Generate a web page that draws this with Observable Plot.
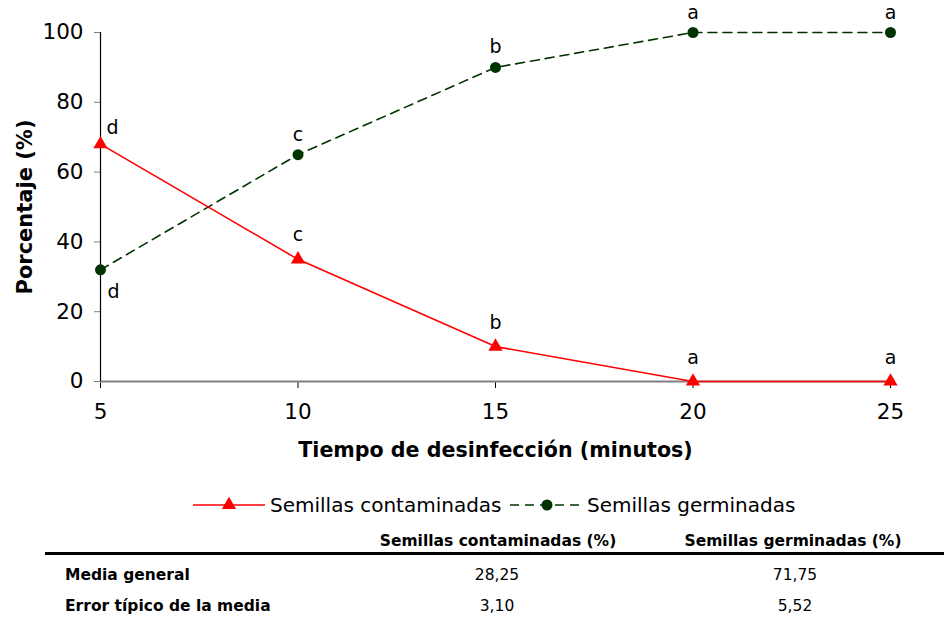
<!DOCTYPE html>
<html>
<head>
<meta charset="utf-8">
<script src="https://cdn.jsdelivr.net/npm/d3@7"></script>
<script src="https://cdn.jsdelivr.net/npm/@observablehq/plot@0.6"></script>
<style>
  body { margin: 0; background: #fff; width: 944px; height: 619px; position: relative; overflow: hidden; font-family: "DejaVu Sans", Verdana, sans-serif; }
  #chart { position: absolute; left: 0; top: 0; }
  #legend { position: absolute; left: 0; top: 488px; width: 944px; height: 34px; }
  .tbl { position: absolute; font-family: "DejaVu Sans", sans-serif; font-weight: bold; font-size: 15.5px; line-height: 18px; color: #000; white-space: nowrap; }
  .v { font-weight: normal; font-size: 15.5px; }
  .c { transform: translateX(-50%); }
  #rule { position: absolute; left: 45px; top: 552px; width: 899px; height: 3px; background: #000; }
</style>
</head>
<body>
<div id="chart"></div>
<div id="legend"></div>
<div class="tbl c" style="left:498px; top:532px;">Semillas contaminadas (%)</div>
<div class="tbl c" style="left:793px; top:532px;">Semillas germinadas (%)</div>
<div id="rule"></div>
<div class="tbl" style="left:65px; top:566px;">Media general</div>
<div class="tbl v c" style="left:497px; top:566px;">28,25</div>
<div class="tbl v c" style="left:795px; top:566px;">71,75</div>
<div class="tbl" style="left:65px; top:597px;">Error típico de la media</div>
<div class="tbl v c" style="left:497px; top:597px;">3,10</div>
<div class="tbl v c" style="left:795px; top:597px;">5,52</div>
<script>
const minutos = [5, 10, 15, 20, 25];
const contaminadas = [68, 35, 10, 0, 0];
const germinadas = [32, 65, 90, 100, 100];
const letrasContaminadas = ["d", "c", "b", "a", "a"];
const letrasGerminadas = ["d", "c", "b", "a", "a"];
const xTicks = [5, 10, 15, 20, 25];
const yTicks = [0, 20, 40, 60, 80, 100];

const RED = "#ff0000";
const GREEN = "#003300";

const cont = minutos.map((m, i) => ({x: m, y: contaminadas[i], l: letrasContaminadas[i], i}));
const germ = minutos.map((m, i) => ({x: m, y: germinadas[i], l: letrasGerminadas[i], i}));

const font = "DejaVu Sans, Verdana, sans-serif";

const plot = Plot.plot({
  width: 944,
  height: 470,
  marginLeft: 100,
  marginRight: 54,
  marginTop: 32,
  marginBottom: 89,
  style: {fontFamily: font, background: "white", color: "#000", overflow: "visible"},
  x: {domain: [5, 25]},
  y: {domain: [0, 100]},
  marks: [
    Plot.axisY({ticks: yTicks, tickSize: 6, tickPadding: 11, fontSize: 21.5, stroke: "#808080", label: null}),
    Plot.axisX({ticks: xTicks, tickSize: 7, tickPadding: 15, fontSize: 21.5, stroke: "#000", label: null}),
    Plot.ruleY([0], {stroke: "#808080", strokeWidth: 2}),
    Plot.ruleX([5], {y1: 0, y2: 100, stroke: "#000", strokeWidth: 1.2}),
    Plot.line(germ, {x: "x", y: "y", stroke: GREEN, strokeWidth: 1.6, strokeDasharray: "9,6"}),
    Plot.line(cont, {x: "x", y: "y", stroke: RED, strokeWidth: 1.6}),
    Plot.dot(germ, {x: "x", y: "y", r: 5.5, fill: GREEN, stroke: null}),
    Plot.dot(cont, {x: "x", y: "y", r: 5.3, symbol: "triangle", fill: RED, stroke: null}),
    Plot.text(cont.filter(d => d.i === 0), {x: "x", y: "y", text: "l", dx: 12, dy: -16, fontSize: 19}),
    Plot.text(cont.filter(d => d.i > 0), {x: "x", y: "y", text: "l", dy: -24, fontSize: 19}),
    Plot.text(germ.filter(d => d.i === 0), {x: "x", y: "y", text: "l", dx: 13, dy: 22, fontSize: 19}),
    Plot.text(germ.filter(d => d.i > 0), {x: "x", y: "y", text: "l", dy: -20, fontSize: 19}),
    Plot.text(["Tiempo de desinfección (minutos)"], {frameAnchor: "bottom", lineAnchor: "middle", textAnchor: "middle", dy: 69, fontSize: 20.6, fontWeight: "bold"}),
    Plot.text(["Porcentaje (%)"], {frameAnchor: "left", lineAnchor: "middle", textAnchor: "middle", dx: -75, rotate: -90, fontSize: 21, fontWeight: "bold"})
  ]
});
document.getElementById("chart").appendChild(plot);

// Legend
const leg = d3.select("#legend").append("svg").attr("width", 944).attr("height", 34)
  .style("font-family", font);
const ly = 17;
leg.append("line").attr("x1", 193).attr("x2", 265).attr("y1", ly).attr("y2", ly).attr("stroke", RED).attr("stroke-width", 1.6);
leg.append("path").attr("d", d3.symbol(d3.symbolTriangle, Math.PI * 5.3 * 5.3)()).attr("transform", `translate(229,${ly})`).attr("fill", RED);
leg.append("text").attr("x", 270).attr("y", ly).attr("dy", "0.35em").attr("font-size", 20).text("Semillas contaminadas");
leg.append("line").attr("x1", 510).attr("x2", 582).attr("y1", ly).attr("y2", ly).attr("stroke", GREEN).attr("stroke-width", 1.6).attr("stroke-dasharray", "9,6");
leg.append("circle").attr("cx", 547).attr("cy", ly).attr("r", 5.5).attr("fill", GREEN);
leg.append("text").attr("x", 587).attr("y", ly).attr("dy", "0.35em").attr("font-size", 20).text("Semillas germinadas");
</script>
</body>
</html>
